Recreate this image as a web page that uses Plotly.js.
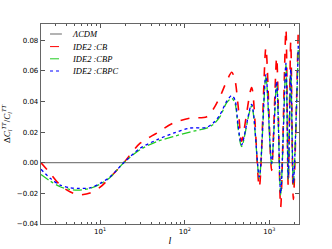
<!DOCTYPE html>
<html><head><meta charset="utf-8">
<script src="https://cdn.plot.ly/plotly-3.0.1.min.js"></script>
<style>html,body{margin:0;padding:0;background:#fff}#plot{width:332px;height:249px}</style>
</head><body><div id="plot"></div>
<script>
const ell = [2, 2.57, 3.37, 4.4, 5.5, 7.6, 10, 13.1, 19, 29.7, 46.7, 73.5, 115, 182, 218, 261, 312, 359, 392, 428, 470, 617, 760, 910, 1063, 1220, 1360, 1570, 1670, 1790, 1920, 2200];
const lcdm = ell.map(() => 0);
const cb = [0, -0.007, -0.0146, -0.019, -0.021, -0.0197, -0.016, -0.0096, 0, 0.0127, 0.0193, 0.0259, 0.029, 0.030, 0.035, 0.043, 0.053, 0.059, 0.054, 0.0367, 0.014, 0.049, -0.016, 0.075, -0.005, 0.0685, -0.029, 0.087, -0.015, 0.079, -0.024, 0.089];
const cbp = [-0.0077, -0.012, -0.0157, -0.0175, -0.0179, -0.0168, -0.014, -0.0096, 0, 0.0085, 0.0138, 0.0171, 0.020, 0.0226, 0.025, 0.030, 0.039, 0.042, 0.039, 0.022, 0.0105, 0.037, -0.010, 0.056, -0.001, 0.052, -0.021, 0.064, -0.011, 0.060, -0.014, 0.076];
const cbpc = [-0.0043, -0.0102, -0.0146, -0.0164, -0.0168, -0.0164, -0.0135, -0.0092, 0, 0.0094, 0.0149, 0.0193, 0.0226, 0.0231, 0.026, 0.0313, 0.040, 0.0438, 0.041, 0.024, 0.0116, 0.038, -0.0092, 0.0575, -0.0004, 0.053, -0.020, 0.065, -0.010, 0.061, -0.0133, 0.077];
const names = ['ΛCDM', 'IDE2 :CB', 'IDE2 :CBP', 'IDE2 :CBPC'];
const colors = ['#808080', '#ff0000', '#22cc22', '#0000ff'];
const dashes = ['solid', 'dash', 'dashdot', 'dot'];
const widths = [1.3, 1.6, 1.3, 1.3];
const xTickVals = [10, 100, 1000];
const xTickText = ['10<sup>1</sup>', '10<sup>2</sup>', '10<sup>3</sup>'];
const yTickVals = [-0.04, -0.02, 0, 0.02, 0.04, 0.06, 0.08];
const minorX = [2,3,4,5,6,7,8,9,20,30,40,50,60,70,80,90,200,300,400,500,600,700,800,900,2000];

const series = [lcdm, cb, cbp, cbpc];
const traces = series.map((y, i) => ({
  x: ell, y: y, name: names[i], type: 'scatter', mode: 'lines', showlegend: false,
  line: i === 0 ? {color: colors[i], width: widths[i]} :
    {color: colors[i], dash: dashes[i], width: widths[i], shape: 'spline', smoothing: 0.8}
}));

// manual legend (compact rows like the reference)
const legRowY = [0.95, 0.887, 0.826, 0.765];
const shapes = names.map((n, i) => ({type: 'line', xref: 'paper', yref: 'paper',
  x0: 0.035, x1: 0.081, y0: legRowY[i], y1: legRowY[i],
  line: {color: colors[i], width: i === 0 ? 1.2 : 1, dash: dashes[i]}}));
const annotations = names.map((n, i) => ({xref: 'paper', yref: 'paper', x: 0.112, y: legRowY[i],
  xanchor: 'left', yanchor: 'middle', showarrow: false, text: '<i>' + n + '</i>',
  font: {family: 'Liberation Serif', size: 8.5, color: '#000'}}));

const layout = {
  width: 332, height: 249,
  margin: {l: 41, r: 33, t: 24, b: 25, pad: 0},
  paper_bgcolor: '#fff', plot_bgcolor: '#fff',
  showlegend: false, shapes: shapes, annotations: annotations,
  xaxis: {type: 'log', range: [Math.log10(2), Math.log10(2240)],
    tickmode: 'array', tickvals: xTickVals, ticktext: xTickText,
    ticks: 'inside', ticklen: 4, tickcolor: '#555', showgrid: false, zeroline: false,
    showline: true, linecolor: '#666', linewidth: 1.3, mirror: 'ticks',
    tickfont: {family: 'DejaVu Sans', size: 7, color: '#000'},
    minor: {tickmode: 'array', tickvals: minorX, ticks: 'inside', ticklen: 2, tickcolor: '#555', showgrid: false},
    title: {text: '<i>l</i>', font: {family: 'Liberation Serif', size: 10, color: '#000'}, standoff: 2}},
  yaxis: {range: [-0.04, 0.0905], tickmode: 'array', tickvals: yTickVals, tickformat: '.2f',
    ticks: 'inside', ticklen: 4, tickcolor: '#555', showgrid: false, zeroline: false,
    showline: true, linecolor: '#666', linewidth: 1.3, mirror: 'ticks',
    tickfont: {family: 'DejaVu Sans', size: 7, color: '#000'},
    title: {text: 'Δ<i>C<sub>l</sub><sup>TT</sup></i>/<i>C<sub>l</sub><sup>TT</sup></i>', font: {family: 'Liberation Serif', size: 9, color: '#000'}, standoff: 5}}
};
Plotly.newPlot('plot', traces, layout, {displayModeBar: false, staticPlot: true});
</script></body></html>
